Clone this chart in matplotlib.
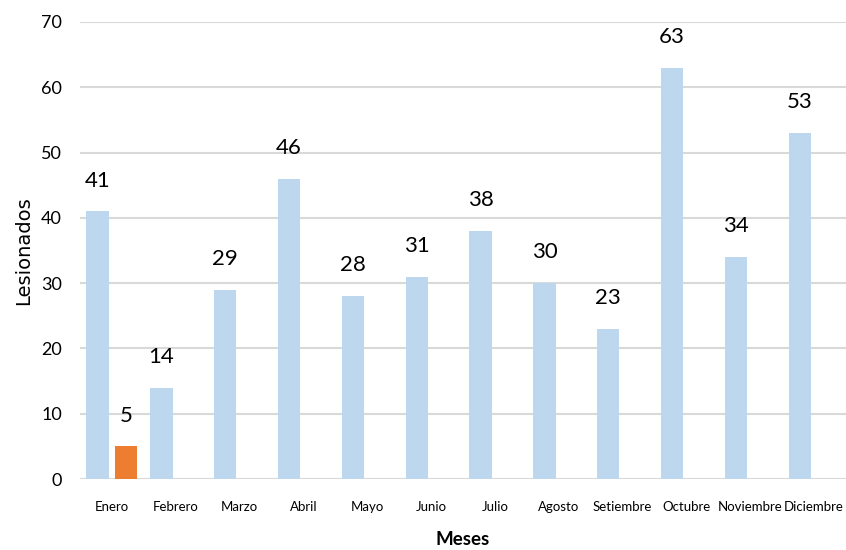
import numpy as np
import matplotlib
matplotlib.use('Agg')
import matplotlib.pyplot as plt
from matplotlib import font_manager

# Data
meses = ['Enero', 'Febrero', 'Marzo', 'Abril', 'Mayo', 'Junio', 'Julio',
         'Agosto', 'Setiembre', 'Octubre', 'Noviembre', 'Diciembre']
serie1 = [41, 14, 29, 46, 28, 31, 38, 30, 23, 63, 34, 53]
serie2 = [5, np.nan, np.nan, np.nan, np.nan, np.nan, np.nan,
          np.nan, np.nan, np.nan, np.nan, np.nan]
yticks = [0, 10, 20, 30, 40, 50, 60, 70]

names = {f.name for f in font_manager.fontManager.ttflist}
narrow = 'Liberation Sans Narrow' if 'Liberation Sans Narrow' in names else 'Lato'

plt.rcParams['font.family'] = [narrow, 'DejaVu Sans']

fig = plt.figure(figsize=(8.46, 5.5), dpi=100)
ax = fig.add_axes([0.0946, 0.129, 0.9054, 0.831])

x = np.arange(len(meses))
w = 0.35
off = 0.225
ax.bar(x - off, serie1, width=w, color='#BDD7EE', zorder=3)
ax.bar(x + off, serie2, width=w, color='#ED7D31', zorder=3)

# value labels
for xi, v in zip(x - off, serie1):
    ax.annotate(f'{v}', (xi, v), xytext=(0, 15), textcoords='offset points',
                ha='center', va='bottom', fontsize=16, family=['Lato', 'DejaVu Sans'])
for xi, v in zip(x + off, serie2):
    if not np.isnan(v):
        ax.annotate(f'{int(v)}', (xi, v), xytext=(0, 15), textcoords='offset points',
                    ha='center', va='bottom', fontsize=16, family=['Lato', 'DejaVu Sans'])

ax.set_xlim(-0.5, len(meses) - 0.5)
ax.set_ylim(0, 70)
ax.set_yticks(yticks)
ax.set_yticklabels([str(t) for t in yticks], fontsize=13, family=['Lato', 'DejaVu Sans'])
ax.set_xticks(x)
ax.set_xticklabels(meses, fontsize=9.5)
ax.tick_params(axis='both', length=0)
ax.tick_params(axis='y', pad=13)
ax.tick_params(axis='x', pad=16)

ax.grid(axis='y', color='#D9D9D9', linewidth=1.5, zorder=0)
for s in ax.spines.values():
    s.set_visible(False)

ax.set_xlabel('Meses', fontsize=13.5, fontweight='bold', family=['Lato', 'DejaVu Sans'], labelpad=13)
ax.set_ylabel('Lesionados', fontsize=14, family=['DejaVu Sans'], labelpad=6)

fig.savefig('out.png', dpi=100)
